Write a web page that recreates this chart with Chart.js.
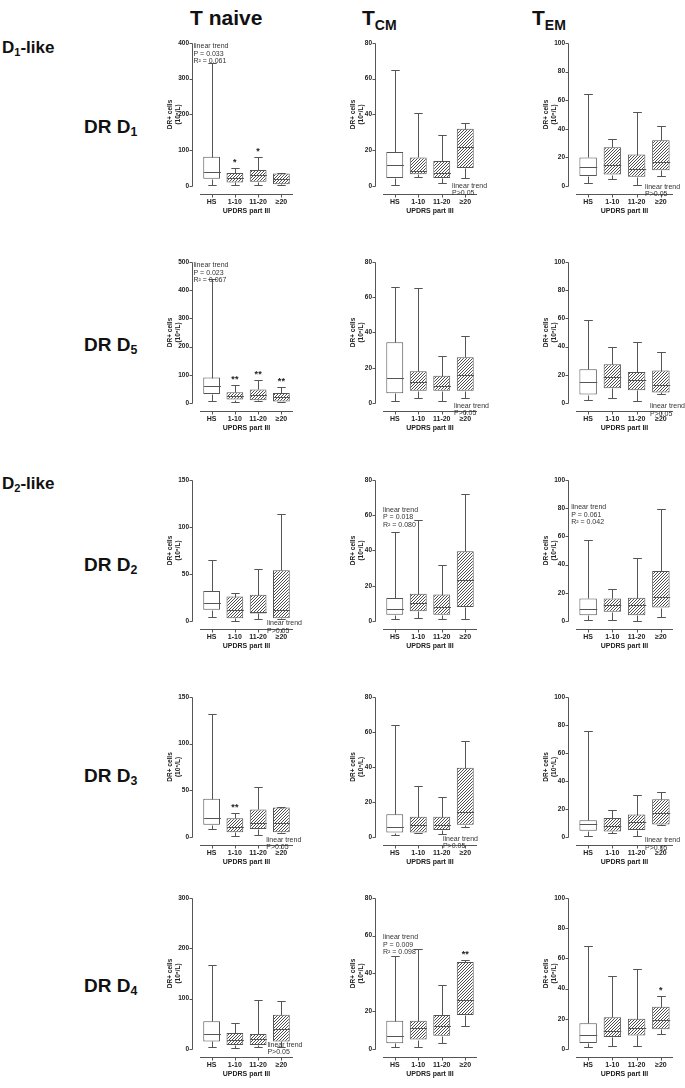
<!DOCTYPE html>
<html>
<head>
<meta charset="utf-8">
<script src="https://cdn.jsdelivr.net/npm/chart.js@4.4.0/dist/chart.umd.min.js"></script>
<style>
  body{margin:0;background:#fff;width:685px;height:1088px;position:relative;overflow:hidden;font-family:"Liberation Sans",Arial,sans-serif;}
  canvas{position:absolute;}
  .h{position:absolute;font-weight:bold;font-size:21px;color:#111;line-height:24px;white-space:nowrap;}
  .h sub{font-size:14px;vertical-align:-5px;line-height:0;}
  .rl{position:absolute;font-weight:bold;color:#111;white-space:nowrap;}
  .rl sub{font-size:0.65em;vertical-align:-0.25em;line-height:0;}
  .big{font-size:19px;line-height:22px;}
  .small{font-size:17px;line-height:20px;}
</style>
</head>
<body>
<div class="h" style="left:190px;top:6px">T naive</div>
<div class="h" style="left:362px;top:6px">T<sub>CM</sub></div>
<div class="h" style="left:532px;top:6px">T<sub>EM</sub></div>

<div class="rl small" style="left:2px;top:38px">D<sub>1</sub>-like</div>
<div class="rl big" style="left:84px;top:116px">DR D<sub>1</sub></div>
<div class="rl big" style="left:84px;top:334px">DR D<sub>5</sub></div>
<div class="rl small" style="left:2px;top:474px">D<sub>2</sub>-like</div>
<div class="rl big" style="left:84px;top:554px">DR D<sub>2</sub></div>
<div class="rl big" style="left:84px;top:765px">DR D<sub>3</sub></div>
<div class="rl big" style="left:84px;top:975px">DR D<sub>4</sub></div>

<script>
const groups = ['HS', '1-10', '11-20', '≥20'];

// each group: [min, q1, median, q3, max]
const naiveD1 = [[2, 20, 40, 82, 345], [3, 10, 22, 36, 50], [4, 12, 30, 45, 80], [2, 5, 20, 35, 35]];
const cmD1    = [[0.5, 4.5, 11.5, 19, 65], [5, 6.5, 8.5, 16, 41], [1.5, 4.5, 7, 14, 28.5], [4.5, 10, 22, 32, 35]];
const emD1    = [[2, 7, 13, 20, 64], [5, 8, 15, 27, 33], [1, 6.5, 12, 22, 52], [7, 11, 17, 32, 42]];

const naiveD5 = [[8, 32, 62, 90, 440], [3, 12, 25, 38, 65], [8, 10, 30, 48, 80], [3, 5, 20, 35, 58]];
const cmD5    = [[1, 5.5, 14, 34.5, 66], [3, 7, 12, 18, 65], [1, 7, 9.5, 15.5, 26.5], [3, 7, 16, 26, 38]];
const emD5    = [[2, 6, 15, 24, 58.5], [3.5, 10.5, 18.5, 27.5, 40], [1.5, 9, 16, 22, 43.5], [6.5, 7.5, 13, 23, 36]];

const naiveD2 = [[4, 12, 19, 32, 65], [0, 3, 12, 26, 30], [2, 8, 10, 28, 55], [2, 3, 12, 54, 114]];
const cmD2    = [[1, 3.5, 7, 13, 50.5], [1.5, 5.5, 10, 15.5, 57], [1, 3.5, 8, 15, 31.5], [1, 8, 23.5, 39.5, 72]];
const emD2    = [[1, 4, 8.5, 16, 57.5], [0.5, 6.5, 11, 16, 23], [0, 4, 11, 16.5, 45], [3, 9.5, 17, 35.5, 79.5]];

const naiveD3 = [[9, 13, 20, 41, 132], [1, 5, 11, 20, 26], [2, 8.5, 15, 29.5, 54], [4, 5, 15, 31.5, 32]];
const cmD3    = [[1, 2.5, 5.5, 13, 64], [2, 2.5, 7, 11.5, 29], [1.5, 4, 7, 11.5, 23], [5.5, 7, 14, 39.5, 55]];
const emD3    = [[0.5, 4.5, 9, 12, 76], [2.5, 4, 8, 13.5, 19.5], [0.5, 5, 11, 16, 30], [8.5, 9, 17, 27, 32]];

const naiveD4 = [[3, 15, 30, 55, 167], [2, 8, 18, 32, 52], [3, 8, 20, 30, 97], [3, 15, 40, 68, 95]];
const cmD4    = [[1, 3, 7, 15, 49], [1, 5, 11, 15, 53], [3, 7, 12, 18, 34], [12, 18, 26, 46, 47]];
const emD4    = [[1, 4, 9, 17, 68], [2, 8, 12, 21, 48], [2, 9, 14, 20, 53], [10, 13, 19, 28, 35]];

const yMaxes = [[400, 80, 100], [500, 80, 100], [150, 80, 100], [150, 80, 100], [300, 80, 100]];
const ySteps = [[100, 20, 20], [100, 20, 20], [50, 20, 20], [50, 20, 20], [100, 20, 20]];

// page geometry of the plot areas
const colLeft = [200, 383, 576];
const colRight = [293, 477, 673];
const rowTop = [40, 259, 477, 694, 895];
const rowZero = [186, 403, 621, 837, 1049];

const panels = [
  {row: 0, col: 0, stats: naiveD1, stars: ['', '*', '*', ''], note: ['linear trend', 'P = 0.033', 'R² = 0.061'], at: [-0.78, 400]},
  {row: 0, col: 1, stats: cmD1, stars: [], note: ['linear trend', 'P>0.05'], at: [2.44, 2]},
  {row: 0, col: 2, stats: emD1, stars: [], note: ['linear trend', 'P>0.05'], at: [2.35, 2]},
  {row: 1, col: 0, stats: naiveD5, stars: ['', '**', '**', '**'], note: ['linear trend', 'P = 0.023', 'R² = 0.067'], at: [-0.78, 500]},
  {row: 1, col: 1, stats: cmD5, stars: [], note: ['linear trend', 'P>0.05'], at: [2.52, 0.5]},
  {row: 1, col: 2, stats: emD5, stars: [], note: ['linear trend', 'P>0.05'], at: [2.55, 0]},
  {row: 2, col: 0, stats: naiveD2, stars: [], note: ['linear trend', 'P>0.05'], at: [2.38, 1]},
  {row: 2, col: 1, stats: cmD2, stars: [], note: ['linear trend', 'P = 0.018', 'R² = 0.080'], at: [-0.5, 65]},
  {row: 2, col: 2, stats: emD2, stars: [], note: ['linear trend', 'P = 0.061', 'R² = 0.042'], at: [-0.7, 83]},
  {row: 3, col: 0, stats: naiveD3, stars: ['', '**', '', ''], note: ['linear trend', 'P>0.05'], at: [2.35, 1]},
  {row: 3, col: 1, stats: cmD3, stars: [], note: ['linear trend', 'P>0.05'], at: [2.05, 1]},
  {row: 3, col: 2, stats: emD3, stars: [], note: ['linear trend', 'P>0.05'], at: [2.35, 0]},
  {row: 4, col: 0, stats: naiveD4, stars: [], note: ['linear trend', 'P>0.05'], at: [2.4, 15]},
  {row: 4, col: 1, stats: cmD4, stars: ['', '', '', '**'], note: ['linear trend', 'P = 0.009', 'R² = 0.098'], at: [-0.5, 61]},
  {row: 4, col: 2, stats: emD4, stars: ['', '', '', '*'], note: [], at: [0, 0]},
];

const INK = '#555';
const FONT = '"Liberation Sans", Arial, sans-serif';

// dense "////" fill for the patient groups
function hatch(){
  const c = document.createElement('canvas'); c.width = 3; c.height = 3;
  const g = c.getContext('2d');
  g.fillStyle = '#fff'; g.fillRect(0, 0, 3, 3);
  g.strokeStyle = '#3a3a3a'; g.lineWidth = 0.9;
  g.beginPath();
  g.moveTo(0, 3); g.lineTo(3, 0);
  g.moveTo(-1, 1); g.lineTo(1, -1);
  g.moveTo(2, 4); g.lineTo(4, 2);
  g.stroke();
  return g.createPattern(c, 'repeat');
}
const pattern = hatch();

// whiskers, medians, GraphPad-style offset axes, stars and trend notes
const boxExtras = {
  id: 'boxExtras',
  afterDatasetsDraw(chart, args, o){
    const {ctx, chartArea, scales: {x, y}} = chart;
    const meta = chart.getDatasetMeta(0);
    const py = v => Math.round(y.getPixelForValue(v)) + 0.5;
    ctx.save();
    ctx.strokeStyle = INK; ctx.lineWidth = 1;
    ctx.beginPath();
    o.stats.forEach((s, i) => {
      const bar = meta.data[i];
      const cx = Math.round(bar.x) + 0.5;
      const half = bar.width / 2;
      const cap = half * 0.5;
      ctx.moveTo(cx, py(s[4])); ctx.lineTo(cx, py(s[3]));
      ctx.moveTo(cx, py(s[1])); ctx.lineTo(cx, py(s[0]));
      ctx.moveTo(cx - cap, py(s[4])); ctx.lineTo(cx + cap, py(s[4]));
      ctx.moveTo(cx - cap, py(s[0])); ctx.lineTo(cx + cap, py(s[0]));
      ctx.moveTo(cx - half, py(s[2])); ctx.lineTo(cx + half, py(s[2]));
    });
    // y axis line from 0 to max with tick marks
    const ax = Math.round(chartArea.left - 8) + 0.5;
    ctx.moveTo(ax, py(y.min)); ctx.lineTo(ax, py(y.max));
    y.ticks.forEach(t => { ctx.moveTo(ax - 3, py(t.value)); ctx.lineTo(ax, py(t.value)); });
    // x axis line below zero with tick marks
    const bx = py(y.min) + 8;
    ctx.moveTo(chartArea.left, bx); ctx.lineTo(chartArea.right, bx);
    o.stats.forEach((s, i) => {
      const cx = Math.round(x.getPixelForValue(i)) + 0.5;
      ctx.moveTo(cx, bx); ctx.lineTo(cx, bx + 3);
    });
    ctx.stroke();

    ctx.fillStyle = '#222';
    ctx.font = 'bold 9px ' + FONT;
    ctx.textAlign = 'center'; ctx.textBaseline = 'bottom';
    o.stars.forEach((st, i) => {
      if (!st) return;
      ctx.fillText(st, x.getPixelForValue(i), y.getPixelForValue(o.stats[i][4]) - 1);
    });

    ctx.font = '7px ' + FONT;
    ctx.fillStyle = '#333';
    ctx.textAlign = 'left'; ctx.textBaseline = 'top';
    const nx = x.getPixelForValue(o.at[0]);
    const ny = y.getPixelForValue(o.at[1]);
    o.note.forEach((line, k) => ctx.fillText(line, nx, ny + k * 7.5));
    ctx.restore();
  }
};

panels.forEach(p => {
  const left = colLeft[p.col], right = colRight[p.col];
  const top = rowTop[p.row], zero = rowZero[p.row];
  const yW = 45, padR = 12, padT = 12, xH = 30;
  const cv = document.createElement('canvas');
  cv.width = yW + (right - left) + padR;
  cv.height = padT + (zero - top) + xH;
  cv.style.left = (left - yW) + 'px';
  cv.style.top = (top - padT) + 'px';
  document.body.appendChild(cv);

  new Chart(cv, {
    type: 'bar',
    data: {
      labels: groups,
      datasets: [{
        data: p.stats.map(s => [s[1], s[3]]),
        backgroundColor: groups.map((g, i) => i === 0 ? '#fff' : pattern),
        borderColor: INK,
        borderWidth: 1,
        borderSkipped: false,
        barPercentage: 0.72,
        categoryPercentage: 1
      }]
    },
    options: {
      responsive: false,
      animation: false,
      events: [],
      layout: {padding: {left: 0, right: padR, top: padT, bottom: 0}},
      plugins: {
        legend: {display: false},
        tooltip: {enabled: false},
        boxExtras: {stats: p.stats, stars: p.stars, note: p.note, at: p.at}
      },
      scales: {
        x: {
          grid: {display: false, drawTicks: false},
          border: {display: false},
          ticks: {padding: 12, maxRotation: 0, minRotation: 0, autoSkip: false, color: '#222', font: {family: FONT, size: 7, weight: 'bold'}},
          title: {display: true, text: 'UPDRS part III', color: '#222', padding: {top: 0, bottom: 1}, font: {family: FONT, size: 7, weight: 'bold'}},
          afterFit: s => { s.height = xH; }
        },
        y: {
          min: 0,
          max: yMaxes[p.row][p.col],
          grid: {display: false, drawTicks: false},
          border: {display: false},
          ticks: {stepSize: ySteps[p.row][p.col], padding: 11, color: '#222', font: {family: FONT, size: 6.5, weight: 'bold'}},
          title: {display: true, text: ['DR+ cells', '(10⁶/L)'], color: '#222', padding: {top: 12, bottom: 0}, font: {family: FONT, size: 6.5, weight: 'bold', lineHeight: 1.1}},
          afterFit: s => { s.width = yW; }
        }
      }
    },
    plugins: [boxExtras]
  });
});
</script>
</body>
</html>
